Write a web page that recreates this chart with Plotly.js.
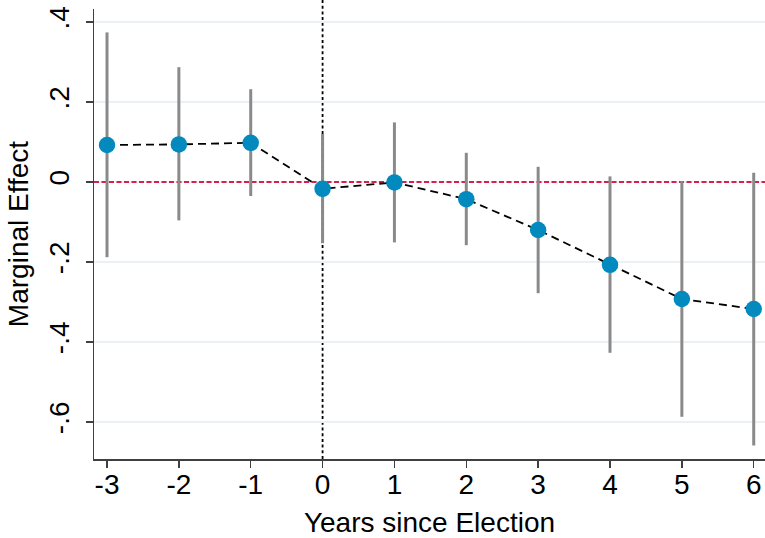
<!DOCTYPE html>
<html>
<head>
<meta charset="utf-8">
<script src="https://cdn.plot.ly/plotly-3.0.1.min.js"></script>
<style>html,body{margin:0;padding:0;background:#fff;}#chart{width:765px;height:538px;}</style>
</head>
<body>
<div id="chart"></div>
<script>
var years = [-3, -2, -1, 0, 1, 2, 3, 4, 5, 6];
var effect = [0.0925, 0.094, 0.098, -0.017, -0.001, -0.043, -0.12, -0.207, -0.2925, -0.3175];
var upper = [0.374, 0.287, 0.232, 0.120, 0.149, 0.073, 0.038, 0.014, 0.0025, 0.023];
var lower = [-0.188, -0.096, -0.035, -0.153, -0.151, -0.158, -0.278, -0.427, -0.587, -0.659];
var yTickVals = [0.4, 0.2, 0, -0.2, -0.4, -0.6];
var yTickText = [".4", ".2", "0", "-.2", "-.4", "-.6"];
var xTickVals = [-3, -2, -1, 0, 1, 2, 3, 4, 5, 6];
var xRange = [-3.181, 6.157];
var yRange = [-0.6925, 0.4325];
var refY = 0;

var errPlus = effect.map(function (v, i) { return upper[i] - v; });
var errMinus = effect.map(function (v, i) { return v - lower[i]; });

var font = "Liberation Sans, Arial, Helvetica, sans-serif";

var zeroLine = {
  x: xRange,
  y: [refY, refY],
  type: "scatter",
  mode: "lines",
  line: { color: "#d6204f", width: 2, dash: "5px,2.5px" },
  hoverinfo: "skip"
};

var trace = {
  x: years,
  y: effect,
  type: "scatter",
  mode: "lines+markers",
  line: { color: "#000000", width: 1.8, dash: "8px,5px" },
  marker: { color: "#028ABF", size: 16.5 },
  error_y: {
    type: "data",
    symmetric: false,
    array: errPlus,
    arrayminus: errMinus,
    color: "#8a8a8a",
    thickness: 3,
    width: 0
  },
  cliponaxis: false,
  hoverinfo: "x+y"
};

var layout = {
  width: 765,
  height: 538,
  margin: { l: 94, r: 0, t: 9, b: 79 },
  paper_bgcolor: "#ffffff",
  plot_bgcolor: "#ffffff",
  showlegend: false,
  font: { family: font, color: "#000000", size: 28 },
  xaxis: {
    range: xRange,
    tickvals: xTickVals,
    ticktext: xTickVals.map(String),
    showgrid: false,
    zeroline: false,
    showline: true,
    linecolor: "#404040",
    linewidth: 1.5,
    ticks: "outside",
    ticklen: 7,
    tickwidth: 1.5,
    tickcolor: "#404040",
    ticklabelstandoff: -7,
    tickfont: { family: font, size: 28, color: "#000" },
    automargin: false,
    title: { text: "Years since Election", font: { family: font, size: 28, color: "#000" } }
  },
  yaxis: {
    range: yRange,
    tickvals: yTickVals,
    ticktext: yTickText,
    tickangle: -90,
    showgrid: true,
    gridcolor: "#eaf0f4",
    gridwidth: 1.6,
    zeroline: false,
    showline: true,
    linecolor: "#404040",
    linewidth: 1.5,
    ticks: "outside",
    ticklen: 7,
    tickwidth: 1.5,
    tickcolor: "#404040",
    ticklabelstandoff: 5,
    tickfont: { family: font, size: 28, color: "#000" },
    automargin: false,
    title: { text: "Marginal Effect", font: { family: font, size: 28, color: "#000" } }
  },
  shapes: [
    {
      type: "line", xref: "x", yref: "paper", x0: 0, x1: 0, y0: 0, y1: 1.02,
      line: { color: "#000000", width: 1.8, dash: "3px,2.7px" }, layer: "below"
    }
  ]
};

Plotly.newPlot("chart", [zeroLine, trace], layout, { displayModeBar: false, staticPlot: true });
</script>
</body>
</html>
